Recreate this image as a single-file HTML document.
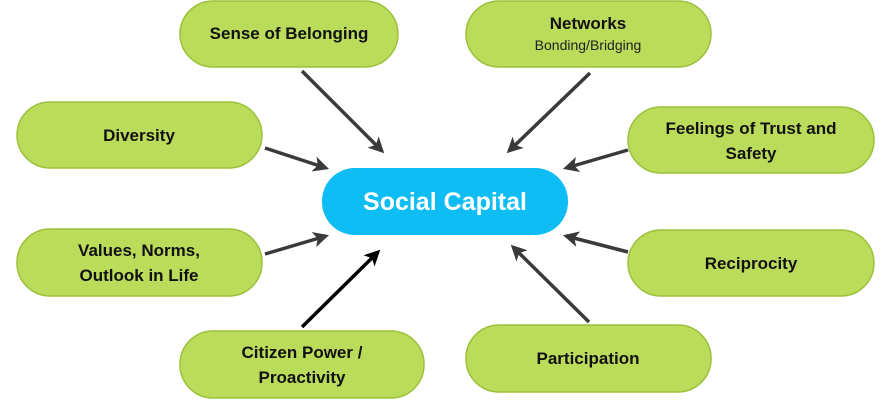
<!DOCTYPE html>
<html><head><style>body{margin:0;background:#fff}svg{display:block}</style></head>
<body>
<svg width="893" height="400" viewBox="0 0 893 400" xmlns="http://www.w3.org/2000/svg" font-family="'Liberation Sans',sans-serif">
<defs>
<marker id="a" viewBox="0 0 10 10" refX="8" refY="5" markerWidth="4.5" markerHeight="4.5" orient="auto"><path d="M0,0 L10,5 L0,10 L2.5,5 z" fill="#3a3a3a"/></marker>
<marker id="b" viewBox="0 0 10 10" refX="8" refY="5" markerWidth="4.5" markerHeight="4.5" orient="auto"><path d="M0,0 L10,5 L0,10 L2.5,5 z" fill="#000"/></marker>
</defs>
<g fill="#bbdb5b" stroke="#9cc13a" stroke-width="1.5">
<rect x="180" y="1" width="218" height="66" rx="33"/>
<rect x="466" y="1" width="245" height="66" rx="33"/>
<rect x="17" y="102" width="245" height="66" rx="33"/>
<rect x="628" y="107" width="246" height="66" rx="33"/>
<rect x="17" y="229" width="245" height="67" rx="33"/>
<rect x="628" y="230" width="246" height="66" rx="33"/>
<rect x="180" y="331" width="244" height="67" rx="33"/>
<rect x="466" y="325" width="245" height="67" rx="33"/>
</g>
<rect x="322" y="168" width="246" height="67" rx="33" fill="#0dbdf3"/>
<g stroke="#3a3a3a" stroke-width="3.5" marker-end="url(#a)">
<line x1="302" y1="71" x2="382" y2="151"/>
<line x1="590" y1="73" x2="509" y2="151"/>
<line x1="265" y1="148" x2="326" y2="168"/>
<line x1="628" y1="150" x2="566" y2="168"/>
<line x1="265" y1="254" x2="326" y2="236"/>
<line x1="628" y1="252" x2="566" y2="236"/>
<line x1="589" y1="322" x2="513" y2="247"/>
</g>
<line x1="302" y1="327" x2="378" y2="252" stroke="#000" stroke-width="3.5" marker-end="url(#b)"/>
<g font-weight="bold" font-size="17" fill="#111" text-anchor="middle">
<text x="289" y="39">Sense of Belonging</text>
<text x="588" y="29">Networks</text>
<text x="139" y="141">Diversity</text>
<text x="751" y="134">Feelings of Trust and</text>
<text x="751" y="159">Safety</text>
<text x="139" y="256">Values, Norms,</text>
<text x="139" y="281">Outlook in Life</text>
<text x="751" y="269">Reciprocity</text>
<text x="302" y="358">Citizen Power /</text>
<text x="302" y="383">Proactivity</text>
<text x="588" y="364">Participation</text>
</g>
<text x="588" y="50" font-size="14" fill="#222" text-anchor="middle">Bonding/Bridging</text>
<text x="445" y="210" font-size="25" font-weight="bold" fill="#fff" text-anchor="middle">Social Capital</text>
</svg>
</body></html>
